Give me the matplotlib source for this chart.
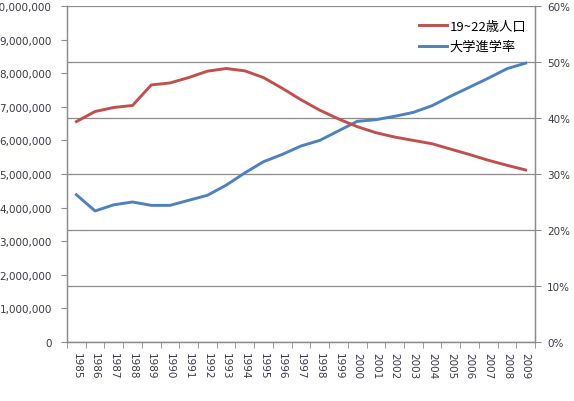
import matplotlib

matplotlib.use('Agg')
import matplotlib.pyplot as plt
from matplotlib.ticker import FuncFormatter, FixedLocator

plt.rcParams['font.family'] = ['DejaVu Sans', 'Noto Sans CJK JP']

years = [str(y) for y in range(1985, 2010)]

# 19~22歳人口 (people)
population = [6.56e6, 6.86e6, 6.98e6, 7.04e6, 7.65e6, 7.71e6, 7.87e6, 8.06e6,
              8.14e6, 8.07e6, 7.87e6, 7.55e6, 7.21e6, 6.90e6, 6.64e6, 6.41e6,
              6.23e6, 6.10e6, 6.00e6, 5.90e6, 5.74e6, 5.58e6, 5.41e6, 5.26e6,
              5.12e6]

# 大学進学率 (ratio)
enrolment = [0.263, 0.234, 0.245, 0.250, 0.244, 0.244, 0.253, 0.262, 0.280,
             0.302, 0.322, 0.335, 0.350, 0.360, 0.377, 0.394, 0.397, 0.403,
             0.410, 0.422, 0.439, 0.455, 0.471, 0.488, 0.498]

label_pop = '19~22歳人口'
label_rate = '大学進学率'

red = '#C0504D'
blue = '#4F81BD'
grid_grey = '#8c8c8c'
text_col = '#3a3a4a'

fig = plt.figure(figsize=(5.74, 4.02), dpi=100)
ax = fig.add_axes([67 / 574, 59 / 402, 468 / 574, 336 / 402])
ax2 = ax.twinx()

x = list(range(len(years)))
l1, = ax.plot(x, population, color=red, lw=2.1, label=label_pop)
l2, = ax2.plot(x, enrolment, color=blue, lw=2.1, label=label_rate)

ax.set_xlim(-0.5, len(years) - 0.5)
ax.set_ylim(0, 10_000_000)
ax2.set_ylim(0, 0.6)

ax.set_yticks([i * 1_000_000 for i in range(11)])
ax.yaxis.set_major_formatter(FuncFormatter(lambda v, p: f'{int(v):,}'))
ax2.set_yticks([i / 10 for i in range(7)])
ax2.yaxis.set_major_formatter(FuncFormatter(lambda v, p: f'{int(round(v * 100))}%'))

ax2.grid(axis='y', color=grid_grey, lw=0.9)
ax2.set_axisbelow(True)
ax.set_zorder(ax2.get_zorder() + 1)
ax.patch.set_visible(False)

ax.set_xticks(x)
ax.set_xticklabels(years, rotation=270, fontsize=7.5, color=text_col)
ax.xaxis.set_minor_locator(FixedLocator([i - 0.5 for i in range(len(years) + 1)]))
ax.tick_params(axis='x', which='major', length=0, pad=7)
ax.tick_params(axis='x', which='minor', length=4, color=grid_grey)
ax.tick_params(axis='y', length=4, color=grid_grey, labelsize=7.5, labelcolor=text_col, pad=7)
ax2.tick_params(axis='y', length=4, color=grid_grey, labelsize=7.5, labelcolor=text_col, pad=4.7)

for a in (ax, ax2):
    a.spines['top'].set_visible(False)
    for s in ('left', 'right', 'bottom'):
        a.spines[s].set_color(grid_grey)
        a.spines[s].set_linewidth(0.9)

leg = ax.legend(handles=[l1, l2], loc='upper right', bbox_to_anchor=(1.007, 0.994),
                frameon=False, handlelength=2.1, handletextpad=0.2,
                labelspacing=0.55,
                prop={'family': ['Noto Sans CJK JP', 'DejaVu Sans'], 'size': 9.5})

fig.savefig('out.png', dpi=100)
